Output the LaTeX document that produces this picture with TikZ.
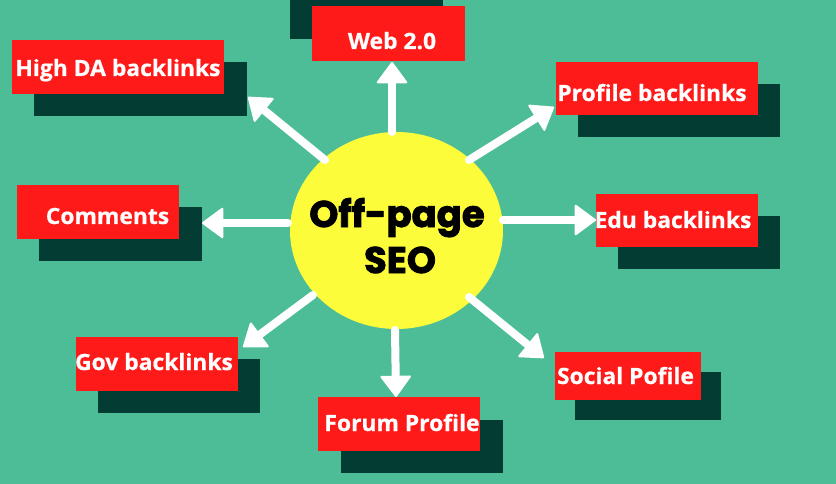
\documentclass[tikz,border=0pt]{standalone}
\usepackage{fontspec}
\setmainfont{Open Sans}[BoldFeatures={FakeBold=0.6}]
\newfontfamily\popfont{Poppins}[BoldFeatures={FakeBold=2.2}]
\usetikzlibrary{arrows.meta,shapes.geometric}
\definecolor{bgc}{HTML}{4CBD97}
\definecolor{redc}{HTML}{FF1A1A}
\definecolor{darkc}{HTML}{023C33}
\definecolor{yelc}{HTML}{FCFC3A}
\begin{document}
\begin{tikzpicture}[x=1pt,y=-1pt,
  lbl/.style={text=white,font=\fontsize{22.4}{24}\selectfont\bfseries,inner sep=0pt,anchor=base,xscale=1.02},
  ctr/.style={font=\popfont\bfseries\fontsize{37}{40}\selectfont,inner sep=0pt,anchor=base},
  warrow/.style={draw=white,line width=8pt,line cap=round,-{Triangle[length=22pt,width=32pt,round,line width=2pt]}}]
\fill[bgc] (0,0) rectangle (836,484);
\useasboundingbox (0,0) rectangle (836,484);
% shadows
\fill[darkc] (34,62) rectangle (247,116);
\fill[darkc] (290,-16) rectangle (443,39);
\fill[darkc] (39,207) rectangle (202,261);
\fill[darkc] (578,84) rectangle (780,137);
\fill[darkc] (618,216) rectangle (780,269);
\fill[darkc] (98,359) rectangle (260,413);
\fill[darkc] (341,420) rectangle (503,473);
\fill[darkc] (575,372) rectangle (721,420);
% red boxes
\fill[redc] (12,40) rectangle (224,94);
\fill[redc] (312,6) rectangle (465,61);
\fill[redc] (17,185) rectangle (179,239);
\fill[redc] (556,62) rectangle (758,115);
\fill[redc] (596,194) rectangle (758,247);
\fill[redc] (76,337) rectangle (238,391);
\fill[redc] (318,397) rectangle (480,451);
\fill[redc] (555,352) rectangle (701,400);
% labels
\node[lbl] (thda) at (118,76) {High DA backlinks};
\node[lbl] (tweb) at (392,49) {Web 2.0};
\node[lbl] (tcom) at (107.5,224) {Comments};
\node[lbl] (tpro) at (652,101) {Profile backlinks};
\node[lbl] (tedu) at (673,228) {Edu backlinks};
\node[lbl] (tgov) at (154,370) {Gov backlinks};
\node[lbl] (tfor) at (402,431) {Forum Profile};
\node[lbl] (tsoc) at (625.5,384) {Social Pofile};
% circle
\node[ellipse,fill=yelc,minimum width=213pt,minimum height=197pt,inner sep=0pt] (c) at (396.5,230.5) {};
\node[ctr] (t1) at (397,227) {Off-page};
\node[ctr] (t2) at (400,273) {SEO};
% arrow ends
\coordinate (s1) at (392,132); \coordinate (e1) at (392,62);
\coordinate (s2) at (325,160); \coordinate (e2) at (248,97);
\coordinate (s3) at (288,223); \coordinate (e3) at (202,223);
\coordinate (s4) at (469,160); \coordinate (e4) at (554,107);
\coordinate (s5) at (503,220); \coordinate (e5) at (596,220);
\coordinate (s6) at (313,295); \coordinate (e6) at (243,347);
\coordinate (s7) at (395,330); \coordinate (e7) at (396,397);
\coordinate (s8) at (469,297); \coordinate (e8) at (544,358);
\foreach \i in {1,...,8} {\draw[warrow] (s\i) -- (e\i);}
\end{tikzpicture}
\end{document}
